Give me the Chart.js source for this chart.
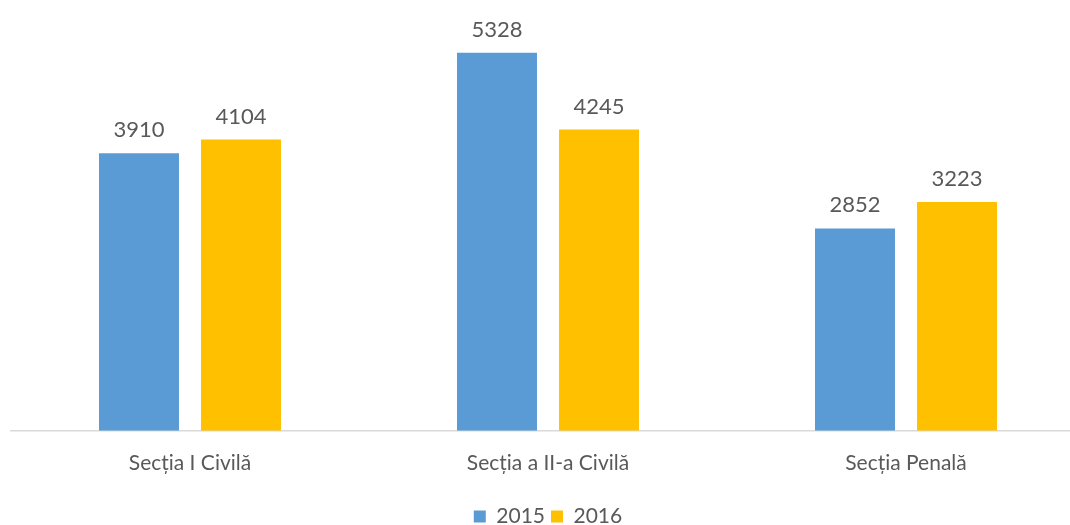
<!DOCTYPE html>
<html>
<head>
<meta charset="utf-8">
<script src="https://cdn.jsdelivr.net/npm/chart.js@4"></script>
<style>
  html, body { margin: 0; padding: 0; background: #fff; overflow: hidden; }
  #wrap { width: 1090px; height: 537px; position: relative; }
</style>
</head>
<body>
<div id="wrap"><canvas id="chart"></canvas></div>
<script>
// Chart data
const categories = ["Secția I Civilă", "Secția a II-a Civilă", "Secția Penală"];
const values2015 = [3910, 5328, 2852];
const values2016 = [4104, 4245, 3223];
const seriesLabels = ["2015", "2016"];

const textColor = "#595959";
const fontFamily = "Lato, 'Open Sans', sans-serif";

// Draws the value above each bar
const valueLabels = {
  id: "valueLabels",
  afterDatasetsDraw(chart) {
    const ctx = chart.ctx;
    ctx.save();
    ctx.fillStyle = textColor;
    ctx.font = "22px " + fontFamily;
    ctx.textAlign = "center";
    ctx.textBaseline = "bottom";
    chart.data.datasets.forEach((ds, i) => {
      chart.getDatasetMeta(i).data.forEach((bar, j) => {
        ctx.fillText(ds.data[j], bar.x, bar.y - 12);
      });
    });
    ctx.restore();
  }
};

new Chart(document.getElementById("chart"), {
  type: "bar",
  data: {
    labels: categories,
    datasets: [
      { label: seriesLabels[0], data: values2015, backgroundColor: "#5B9BD5" },
      { label: seriesLabels[1], data: values2016, backgroundColor: "#FFC000" }
    ]
  },
  options: {
    responsive: true,
    maintainAspectRatio: false,
    animation: false,
    categoryPercentage: 0.57,
    barPercentage: 0.784,
    layout: { padding: { top: 5, left: 11, right: 5, bottom: 0 } },
    scales: {
      x: {
        grid: { display: false },
        border: { display: true, color: "#D9D9D9", width: 1.5 },
        ticks: { color: textColor, font: { family: fontFamily, size: 21 }, padding: 12 },
        afterFit(scale) { scale.height += 12; }
      },
      y: { display: false, min: 0, max: 6000 }
    },
    plugins: {
      legend: {
        position: "bottom",
        labels: {
          color: textColor,
          font: { family: fontFamily, size: 21 },
          boxWidth: 12,
          boxHeight: 12,
          padding: 6
        }
      },
      tooltip: { enabled: false }
    }
  },
  plugins: [valueLabels]
});
</script>
</body>
</html>
